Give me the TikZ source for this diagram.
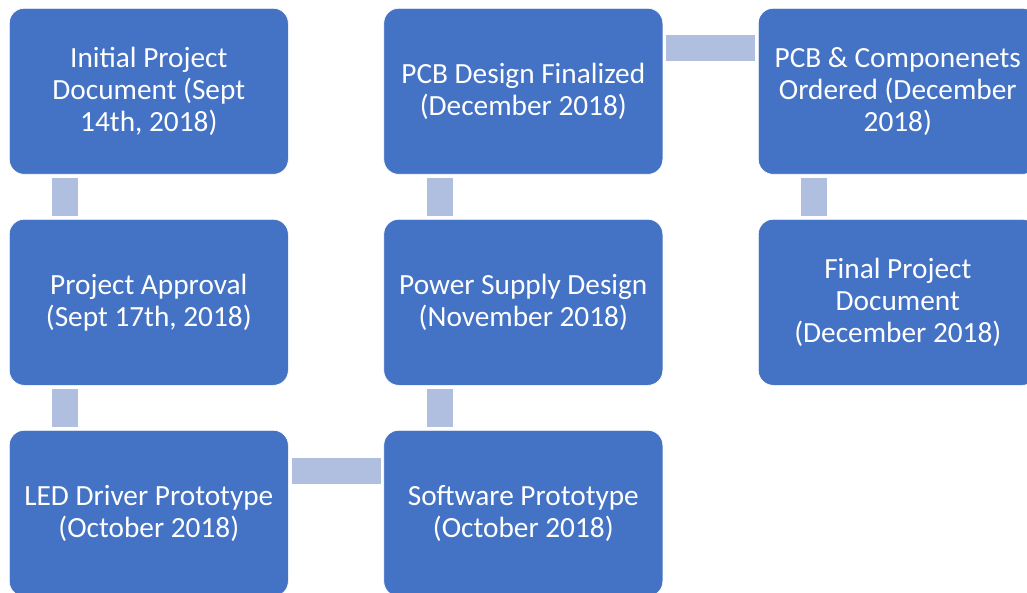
\documentclass[tikz,border=0pt]{standalone}
\usepackage{fontspec}
\setmainfont{Carlito}
\usetikzlibrary{calc}
\definecolor{boxblue}{HTML}{4472C4}
\definecolor{connblue}{HTML}{B0BEDF}
\tikzset{
  box/.style={anchor=north west, rectangle, rounded corners=15pt, fill=boxblue,
    draw=white, line width=0.6pt, text=white, align=center,
    minimum width=279pt, minimum height=166pt, inner sep=0pt,
    font=\fontsize{29.3}{32}\selectfont},
  conn/.style={draw=connblue, line width=26pt, line cap=butt}
}
\begin{document}
\begin{tikzpicture}[x=1pt,y=-1pt]
\useasboundingbox (0,0) rectangle (1027,593);
\clip (0,0) rectangle (1027,593);
\fill[white] (0,0) rectangle (1027,593);
% column 1
\node[box] (b1) at (9,8) {Initial Project\\Document (Sept\\14th, 2018)};
\node[box] (b2) at (9,219) {Project Approval\\(Sept 17th, 2018)};
\node[box] (b3) at (9,430) {LED Driver Prototype\\(October 2018)};
% column 2
\node[box] (b4) at (383.5,430) {Software Prototype\\(October 2018)};
\node[box] (b5) at (383.5,219) {Power Supply Design\\(November 2018)};
\node[box] (b6) at (383.5,8) {PCB Design Finalized\\(December 2018)};
% column 3
\node[box] (b7) at (758,8) {PCB \& Componenets\\Ordered (December\\2018)};
\node[box] (b8) at (758,219) {Final Project\\Document\\(December 2018)};
% connectors
\draw[conn] ($(b1.south west)+(56,3)$) -- ($(b2.north west)+(56,-3)$);
\draw[conn] ($(b2.south west)+(56,3)$) -- ($(b3.north west)+(56,-3)$);
\draw[conn] ($(b3.north east)+(3,41)$) -- ($(b4.north west)+(-2.5,41)$);
\draw[conn] ($(b4.north west)+(56,-3)$) -- ($(b5.south west)+(56,3)$);
\draw[conn] ($(b5.north west)+(56,-3)$) -- ($(b6.south west)+(56,3)$);
\draw[conn] ($(b6.north east)+(3,40)$) -- ($(b7.north west)+(-3,40)$);
\draw[conn] ($(b7.south west)+(56,3)$) -- ($(b8.north west)+(56,-3)$);
\end{tikzpicture}
\end{document}
